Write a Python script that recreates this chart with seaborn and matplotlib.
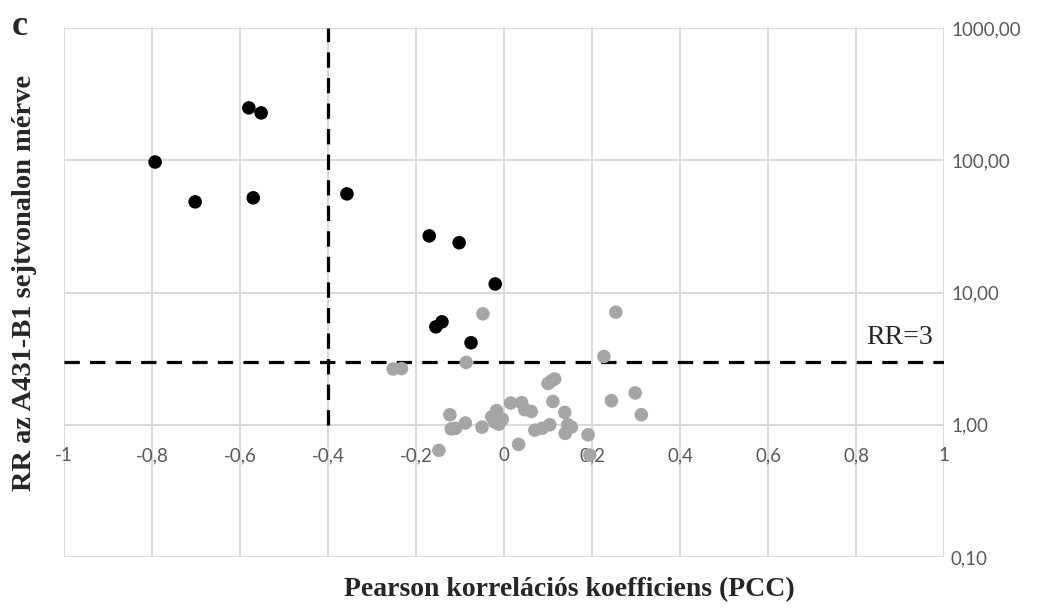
import matplotlib
matplotlib.use("Agg")
import matplotlib.pyplot as plt
import seaborn as sns
import pandas as pd

# ---- data ----
black_x = [-0.793, -0.702, -0.580, -0.552, -0.570, -0.357, -0.170, -0.102, -0.020, -0.155, -0.141, -0.075]
black_y = [97, 48.5, 249, 228, 52, 55.7, 26.8, 23.8, 11.6, 5.5, 6.0, 4.17]

gray_x = [-0.252, -0.233, -0.086, -0.048, -0.123, -0.120, -0.110, -0.088, -0.050, -0.148,
          -0.017, -0.028, -0.021, -0.012, -0.004, 0.015, 0.040, 0.047, 0.062, 0.033,
          0.070, 0.087, 0.104, 0.100, 0.108, 0.115, 0.111, 0.138, 0.145, 0.153,
          0.139, 0.191, 0.195, 0.227, 0.244, 0.254, 0.298, 0.312]
gray_y = [2.64, 2.66, 2.96, 6.9, 1.19, 0.93, 0.94, 1.03, 0.96, 0.64,
          1.28, 1.15, 1.05, 1.01, 1.10, 1.46, 1.47, 1.30, 1.26, 0.71,
          0.91, 0.94, 1.00, 2.05, 2.15, 2.22, 1.50, 1.24, 1.00, 0.96,
          0.86, 0.84, 0.59, 3.28, 1.52, 7.1, 1.74, 1.19]

x_ticks = [-1, -0.8, -0.6, -0.4, -0.2, 0, 0.2, 0.4, 0.6, 0.8, 1]
x_tick_labels = ["-1", "-0,8", "-0,6", "-0,4", "-0,2", "0", "0,2", "0,4", "0,6", "0,8", "1"]
y_ticks = [0.1, 1, 10, 100, 1000]
y_tick_labels = ["0,10", "1,00", "10,00", "100,00", "1000,00"]

pcc_threshold = -0.4
rr_threshold = 3

df = pd.DataFrame({
    "PCC": gray_x + black_x,
    "RR": gray_y + black_y,
    "group": ["gray"] * len(gray_x) + ["black"] * len(black_x),
})

sns.set_style("white")
fig = plt.figure(figsize=(10.48, 6.08), dpi=100)
ax = fig.add_axes([0.0611, 0.0839, 0.8397, 0.8700])

sns.scatterplot(data=df, x="PCC", y="RR", hue="group",
                palette={"gray": "#a5a5a5", "black": "#000000"},
                s=95, linewidth=0, legend=False, ax=ax, zorder=3)

ax.set_yscale("log")
ax.set_xlim(-1, 1)
ax.set_ylim(0.1, 1000)
ax.set_xticks(x_ticks)
ax.set_xticklabels(x_tick_labels)
ax.set_yticks(y_ticks)
ax.set_yticklabels(y_tick_labels)
ax.minorticks_off()

ax.grid(True, color="#d9d9d9", linewidth=1.4, zorder=0)
for sp in ax.spines.values():
    sp.set_visible(False)
ax.spines["bottom"].set_position(("data", 1))

ax.yaxis.tick_right()
ax.tick_params(axis="y", length=0, pad=5, labelsize=13.5, labelcolor="#595959")
ax.tick_params(axis="x", length=0, pad=16, labelsize=13.5, labelcolor="#595959")
for lab in ax.get_xticklabels() + ax.get_yticklabels():
    lab.set_fontfamily("Lato")

# threshold lines
ax.plot([pcc_threshold, pcc_threshold], [1, 1000], color="black", lw=2.3,
        dashes=(4.8, 3.2), zorder=2)
ax.axhline(rr_threshold, color="black", lw=2.3, dashes=(4.8, 3.2), zorder=2)

ax.text(0.975, rr_threshold * 1.22, "RR=3", family="Liberation Serif", fontsize=20,
        ha="right", va="bottom")

ax.set_xlabel("Pearson korrelációs koefficiens (PCC)", family="Liberation Serif",
              fontsize=20, fontweight="bold")
ax.xaxis.set_label_coords(0.574, -0.038)
ax.set_ylabel("RR az A431-B1 sejtvonalon mérve", family="Liberation Serif",
              fontsize=20.5, fontweight="bold")
ax.yaxis.set_label_position("left")
ax.yaxis.set_label_coords(-0.031, 0.518)

fig.text(0.011, 0.942, "c", family="Liberation Serif", fontsize=26, fontweight="bold",
         ha="left", va="baseline")

fig.savefig("out.png", dpi=100)
